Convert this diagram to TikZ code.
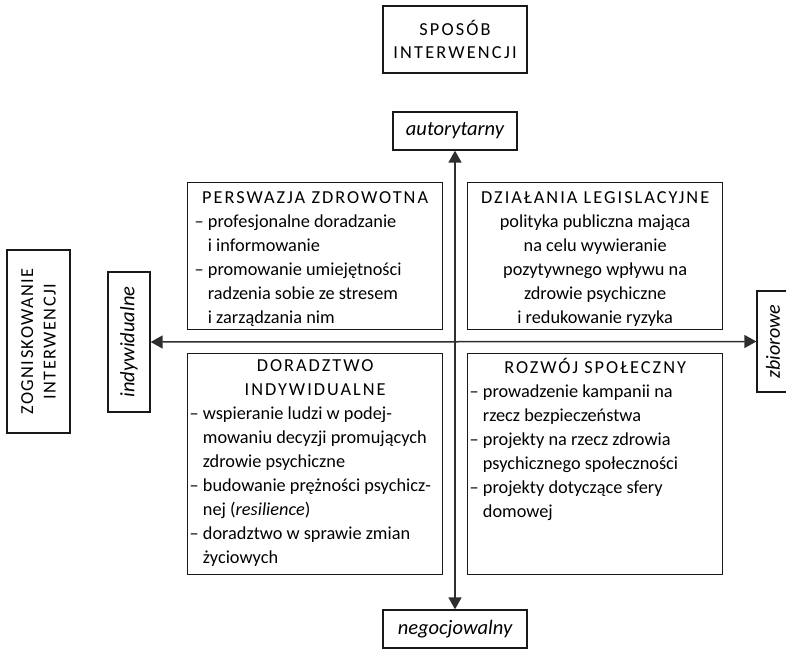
\documentclass[tikz,border=0pt]{standalone}
\usepackage{fontspec}
\setmainfont{Carlito}
\usetikzlibrary{arrows.meta}
\newlength\dashw
\newcommand\qbox[3]{\parbox[c][#2][t]{#1}{\fontsize{18.3}{24}\selectfont\setlength\parskip{0pt}\settowidth\dashw{–\ }#3}}
\newcommand\capsp[2]{{\addfontfeatures{LetterSpace=#1}#2}}
\newcommand\qtitle[2]{{\centering\rule{0pt}{#1}\addfontfeatures{LetterSpace=11}#2\par}}
\newcommand\itm[1]{{\hangindent=\dashw\hangafter=1\noindent–\ #1\par}}
\begin{document}
\begin{tikzpicture}[x=1pt,y=-1pt,
  frame/.style={draw=black!90, line width=1.3pt},
  quad/.style={frame, inner ysep=0pt, anchor=north west},
  tag/.style={frame, inner sep=0pt, font=\fontsize{18.3}{22.5}\selectfont, align=center},
  itag/.style={tag, font=\fontsize{20.5}{22}\selectfont\itshape},
  axis/.style={draw=black!82, line width=1.5pt, {Triangle[length=12pt,width=13pt]}-{Triangle[length=12pt,width=13pt]}}
]
\useasboundingbox (0,0) rectangle (786,650);

% labels
\node[tag, minimum width=144pt, minimum height=67pt] (spos) at (455,39.5) {\capsp{12}{SPOSÓB}\\\capsp{12}{INTERWENCJI}};
\node[itag, minimum width=124pt, minimum height=38pt] (auto) at (455,131) {autorytarny};
\node[itag, minimum width=144pt, minimum height=38pt] (nego) at (455,629) {negocjowalny};
\node[tag, rotate=90, minimum width=183pt, minimum height=63pt] (zogn) at (38.5,341.5) {\capsp{8}{ZOGNISKOWANIE}\\\capsp{8}{INTERWENCJI}};
\node[itag, rotate=90, minimum width=140pt, minimum height=42pt] (indy) at (129,342) {indywidualne};
\node[itag, rotate=90, minimum width=101pt, minimum height=32pt, font=\fontsize{20}{22}\selectfont\itshape] (zbio) at (773,341.5) {zbiorowe};

% quadrants
\node[quad, inner xsep=7pt] (tl) at (187,182) {\qbox{241pt}{147pt}{%
  \qtitle{21pt}{PERSWAZJA ZDROWOTNA}%
  \itm{profesjonalne doradzanie\\i informowanie}%
  \itm{promowanie umiejętności\\radzenia sobie ze stresem\\i zarządzania nim}}};
\node[quad, inner xsep=4pt] (tr) at (467,182) {\qbox{247pt}{147pt}{\centering
  \rule{0pt}{21pt}\capsp{11}{DZIAŁANIA LEGISLACYJNE}\\
  polityka publiczna mająca\\
  na celu wywieranie\\
  pozytywnego wpływu na\\
  zdrowie psychiczne\\
  i redukowanie ryzyka\par}};
\node[quad, inner xsep=2pt] (bl) at (187,353) {\qbox{251pt}{221pt}{%
  \qtitle{18pt}{DORADZTWO\\INDYWIDUALNE}%
  \itm{wspieranie ludzi w podej-\\mowaniu decyzji promujących\\zdrowie psychiczne}%
  \itm{budowanie prężności psychicz-\\nej (\textit{resilience})}%
  \itm{doradztwo w sprawie zmian\\życiowych}}};
\node[quad, inner xsep=2pt] (br) at (467,353) {\qbox{251pt}{221pt}{%
  \qtitle{20pt}{ROZWÓJ SPOŁECZNY}%
  \itm{prowadzenie kampanii na\\rzecz bezpieczeństwa}%
  \itm{projekty na rzecz zdrowia\\psychicznego społeczności}%
  \itm{projekty dotyczące sfery\\domowej}}};

% axes
\draw[axis] (auto.south) -- (nego.north);
\draw[axis] (indy.south) -- (zbio.north);
\end{tikzpicture}
\end{document}
